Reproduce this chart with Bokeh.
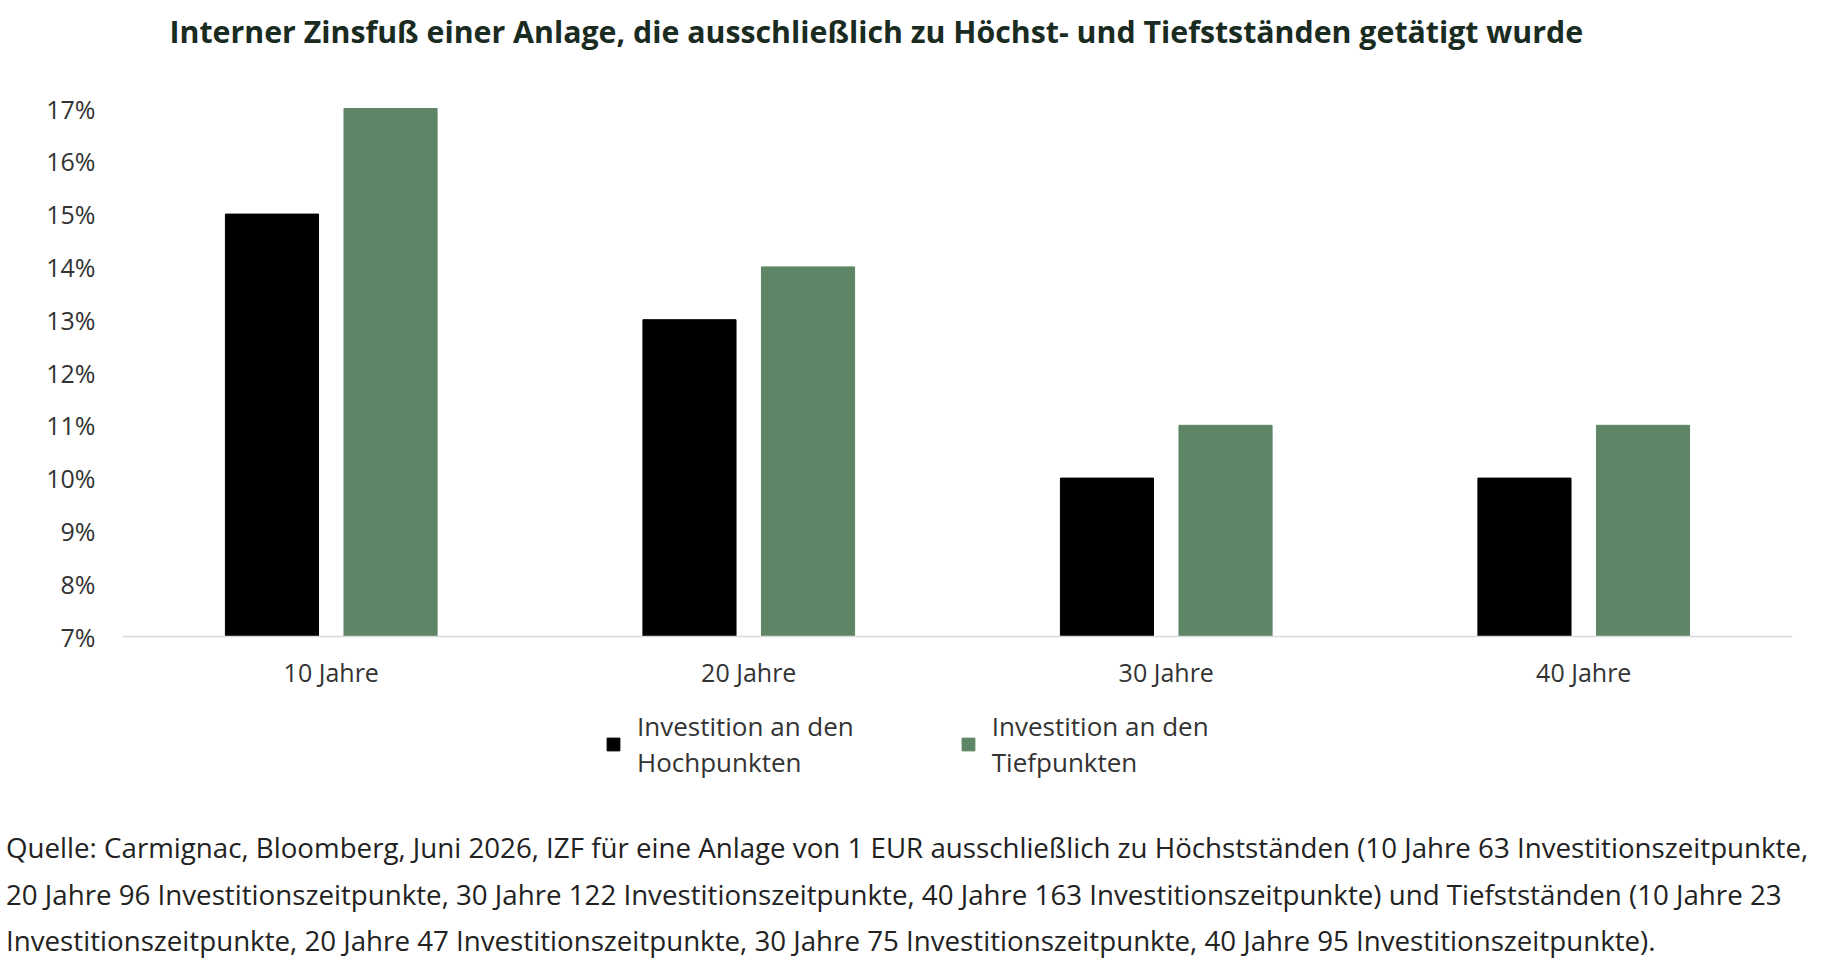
from bokeh.plotting import figure
from bokeh.layouts import column
from bokeh.models import (FactorRange, Range1d, Label, Legend, LegendItem,
                          PrintfTickFormatter, FixedTicker, ColumnDataSource)
from bokeh.transform import dodge
from bokeh.embed import file_html
from bokeh.resources import INLINE

# ---- data ----
categories = ["10 Jahre", "20 Jahre", "30 Jahre", "40 Jahre"]
hochpunkte = [15, 13, 10, 10]
tiefpunkte = [17, 14, 11, 11]
y_ticks = [7, 8, 9, 10, 11, 12, 13, 14, 15, 16, 17]
series_labels = ["Investition an den\nHochpunkten", "Investition an den\nTiefpunkten"]
title_text = "Interner Zinsfuß einer Anlage, die ausschließlich zu Höchst- und Tiefstständen getätigt wurde"
footnote_lines = [
    "Quelle: Carmignac, Bloomberg, Juni 2026, IZF für eine Anlage von 1 EUR ausschließlich zu Höchstständen (10 Jahre 63 Investitionszeitpunkte,",
    "20 Jahre 96 Investitionszeitpunkte, 30 Jahre 122 Investitionszeitpunkte, 40 Jahre 163 Investitionszeitpunkte) und Tiefstständen (10 Jahre 23",
    "Investitionszeitpunkte, 20 Jahre 47 Investitionszeitpunkte, 30 Jahre 75 Investitionszeitpunkte, 40 Jahre 95 Investitionszeitpunkte).",
]

BLACK = "#000000"
GREEN = "#5E8566"
FONT = "Open Sans"

src = ColumnDataSource(data=dict(cat=categories, hoch=hochpunkte, tief=tiefpunkte))

W = 1828
H1, H2 = 815, 146
BL, BR = 122, 36
base_px = 636          # pixel row of the 7% baseline
px_per_unit = 52.8
y0 = 7

p = figure(width=W, height=H1, title=None, x_range=FactorRange(*categories),
           y_range=Range1d(y0 - (H1 - base_px) / px_per_unit, y0 + base_px / px_per_unit),
           output_backend="svg", toolbar_location=None,
           min_border_left=BL, min_border_right=BR,
           min_border_top=0, min_border_bottom=0)
p.outline_line_color = None
p.xgrid.grid_line_color = None
p.ygrid.grid_line_color = None
p.background_fill_color = "white"
p.border_fill_color = "white"

r1 = p.vbar(x=dodge("cat", -0.142, range=p.x_range), top="hoch", bottom=y0, width=0.223,
            source=src, fill_color=BLACK, line_color=BLACK)
r2 = p.vbar(x=dodge("cat", 0.142, range=p.x_range), top="tief", bottom=y0, width=0.223,
            source=src, fill_color=GREEN, line_color=GREEN)

# y axis
ya = p.yaxis[0]
ya.ticker = FixedTicker(ticks=y_ticks)
ya.formatter = PrintfTickFormatter(format="%d%%")
ya.axis_line_color = None
ya.major_tick_line_color = None
ya.minor_tick_line_color = None
ya.major_tick_in = 0
ya.major_tick_out = 0
ya.major_label_standoff = 27
ya.major_label_text_font = FONT
ya.major_label_text_font_size = "25px"
ya.major_label_text_color = "#333333"

# x axis, fixed at the 7% baseline
xa = p.xaxis[0]
xa.fixed_location = y0
xa.axis_line_color = "#d9d9d9"
xa.axis_line_width = 1.5
xa.major_tick_line_color = None
xa.minor_tick_line_color = None
xa.major_tick_in = 0
xa.major_tick_out = 0
xa.major_label_standoff = 18
xa.major_label_text_font = FONT
xa.major_label_text_font_size = "25px"
xa.major_label_text_color = "#333333"

# legend
legend = Legend(items=[LegendItem(label=series_labels[0], renderers=[r1]),
                       LegendItem(label=series_labels[1], renderers=[r2])],
                orientation="horizontal", location=(483, 35),
                label_text_font=FONT, label_text_font_size="26px",
                label_text_color="#333333", label_text_line_height=0.86,
                glyph_width=16, glyph_height=16, label_standoff=16, spacing=106,
                padding=0, margin=0, border_line_color=None,
                background_fill_alpha=0)
p.add_layout(legend)

# title
p.add_layout(Label(x=47, y=H1 - 30.5, x_units="screen", y_units="screen",
                   text=title_text, text_font=FONT, text_font_style="bold",
                   text_font_size="30.3px", text_color="#1a2b1f",
                   text_align="left", text_baseline="alphabetic"))

# footnote figure
q = figure(width=W, height=H2, title=None, x_range=Range1d(0, W), y_range=Range1d(0, H2),
           x_axis_type=None, y_axis_type=None, output_backend="svg",
           toolbar_location=None, min_border=0)
q.outline_line_color = None
q.xgrid.grid_line_color = None
q.ygrid.grid_line_color = None
baselines = [31.3, 78.0, 124.7]
for line, b in zip(footnote_lines, baselines):
    q.add_layout(Label(x=5.5, y=H2 - b, x_units="screen", y_units="screen",
                       text=line, text_font=FONT, text_font_size="27.7px",
                       text_color="#222222", text_align="left",
                       text_baseline="alphabetic"))

for fig in (p, q):
    try:
        fig.frame_align = False
    except Exception:
        pass

open("out.html", "w").write(file_html(column(p, q, spacing=0), INLINE))
